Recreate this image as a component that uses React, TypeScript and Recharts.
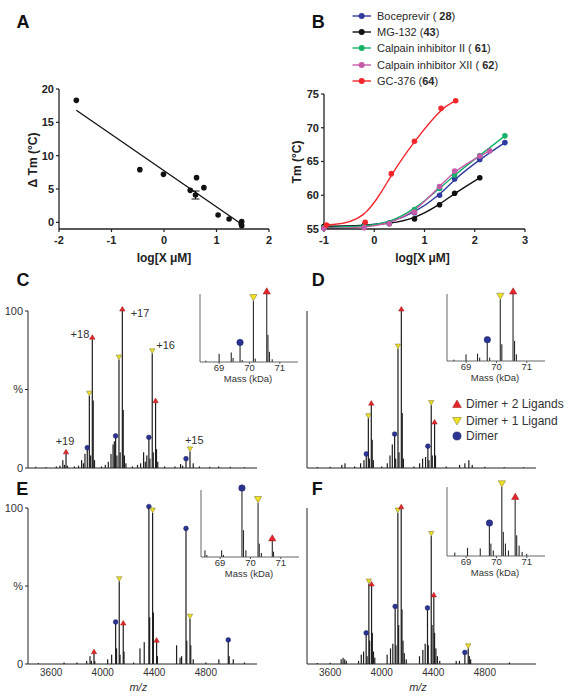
import React from 'react';
import { ComposedChart, Scatter, Line, Bar, XAxis, YAxis, ErrorBar, ReferenceDot } from 'recharts';

const FONT = '"Liberation Sans", Arial, Helvetica, sans-serif';
const INK = '#222';
const RED = '#e4262c';
const YEL = '#f2e321';
const BLU = '#2b3591';

// ---------- Panel A : ΔTm vs log[X µM]
const aX = [-1.67, -0.46, -0.01, 0.5, 0.6, 0.62, 0.76, 1.03, 1.24, 1.48, 1.48, 1.47];
const aY = [18.3, 7.9, 7.2, 4.8, 4.1, 6.7, 5.2, 1.1, 0.5, 0.1, -0.5, -0.2];
const aErr = [0, 0, 0, 0, 0.6, 0, 0, 0, 0, 0, 0, 0];
const aFitX = [-1.67, 1.48];
const aFitY = [16.8, -0.3];
const aXTicks = [-2, -1, 0, 1, 2];
const aYTicks = [0, 5, 10, 15, 20];

// ---------- Panel B : Tm vs log[X µM]
const bocX = [-1, -0.2, 0.3, 0.8, 1.3, 1.6, 2.1, 2.6];
const bocY = [55.3, 55.5, 55.9, 57.4, 60.0, 62.4, 65.3, 67.8];
const mgX = [-1, -0.2, 0.3, 0.8, 1.3, 1.6, 2.1];
const mgY = [55.4, 55.5, 55.8, 56.5, 58.6, 60.3, 62.6];
const c2X = [-1, -0.2, 0.3, 0.8, 1.3, 1.6, 2.1, 2.6];
const c2Y = [55.2, 55.4, 55.9, 57.9, 61.0, 63.0, 65.9, 68.8];
const c12X = [-1, -0.2, 0.3, 0.8, 1.3, 1.6, 2.1, 2.3];
const c12Y = [55.1, 55.2, 55.8, 57.5, 61.3, 63.6, 65.8, 66.6];
const gcX = [-0.95, -0.18, 0.34, 0.8, 1.33, 1.62];
const gcY = [55.6, 56.0, 63.2, 68.0, 72.9, 74.0];
const bXTicks = [-1, 0, 1, 2, 3];
const bYTicks = [55, 60, 65, 70, 75];

const bSeries = [
  { pre: 'Boceprevir ( ', num: '28', color: '#2f3c9e', xs: bocX, ys: bocY },
  { pre: 'MG-132 (', num: '43', color: '#111111', xs: mgX, ys: mgY },
  { pre: 'Calpain inhibitor II ( ', num: '61', color: '#17b26a', xs: c2X, ys: c2Y },
  { pre: 'Calpain inhibitor XII ( ', num: '62', color: '#c45aa8', xs: c12X, ys: c12Y },
  { pre: 'GC-376 (', num: '64', color: '#f2262b', xs: gcX, ys: gcY },
];

// ---------- Mass spectra (m/z, relative intensity %, marker)
type Mark = 'r' | 'y' | 'b';
type Peak = { mz: number; v: number; m?: Mark };
type IPeak = { k: number; v: number; m?: Mark };

const cPeaks: Peak[] = [
  { mz: 3480, v: 0.8 }, { mz: 3560, v: 0.6 }, { mz: 3640, v: 1 }, { mz: 3668, v: 1.5 },
  { mz: 3690, v: 5 }, { mz: 3703, v: 2 }, { mz: 3715, v: 9, m: 'r' }, { mz: 3726, v: 1.5 },
  { mz: 3780, v: 1 }, { mz: 3812, v: 1.5 }, { mz: 3836, v: 5 }, { mz: 3850, v: 3 },
  { mz: 3862, v: 9 }, { mz: 3880, v: 12, m: 'b' }, { mz: 3896, v: 46, m: 'y' }, { mz: 3906, v: 8 },
  { mz: 3919, v: 82, m: 'r' }, { mz: 3926, v: 43 }, { mz: 3936, v: 5 }, { mz: 3990, v: 1 },
  { mz: 4020, v: 2 }, { mz: 4043, v: 4 }, { mz: 4064, v: 9 }, { mz: 4080, v: 15 },
  { mz: 4090, v: 17 }, { mz: 4100, v: 19.5, m: 'b' }, { mz: 4110, v: 8 }, { mz: 4126, v: 69, m: 'y' },
  { mz: 4135, v: 10 }, { mz: 4152, v: 100, m: 'r' }, { mz: 4159, v: 37 }, { mz: 4168, v: 8 },
  { mz: 4180, v: 3 }, { mz: 4230, v: 1 }, { mz: 4270, v: 2 }, { mz: 4294, v: 3 },
  { mz: 4317, v: 10 }, { mz: 4330, v: 4 }, { mz: 4342, v: 8 }, { mz: 4358, v: 18.6, m: 'b' },
  { mz: 4366, v: 6 }, { mz: 4384, v: 73, m: 'y' }, { mz: 4392, v: 10 }, { mz: 4410, v: 41.6, m: 'r' },
  { mz: 4417, v: 12 }, { mz: 4427, v: 4 }, { mz: 4480, v: 1 }, { mz: 4560, v: 1 },
  { mz: 4604, v: 2.5 }, { mz: 4620, v: 1.5 }, { mz: 4646, v: 5, m: 'b' }, { mz: 4677, v: 10.5, m: 'y' },
  { mz: 4702, v: 3 }, { mz: 4750, v: 1 }, { mz: 4830, v: 0.8 }, { mz: 4900, v: 1 },
  { mz: 4990, v: 0.8 }, { mz: 5100, v: 0.5 },
];

const dPeaks: Peak[] = [
  { mz: 3500, v: 0.6 }, { mz: 3600, v: 0.8 }, { mz: 3690, v: 2 }, { mz: 3715, v: 3 },
  { mz: 3790, v: 1 }, { mz: 3836, v: 3 }, { mz: 3862, v: 5 }, { mz: 3880, v: 8, m: 'b' },
  { mz: 3896, v: 31.7, m: 'y' }, { mz: 3904, v: 6 }, { mz: 3919, v: 40, m: 'r' }, { mz: 3926, v: 18 },
  { mz: 3935, v: 5 }, { mz: 4000, v: 1 }, { mz: 4043, v: 3 }, { mz: 4064, v: 8 },
  { mz: 4082, v: 15 }, { mz: 4100, v: 20.7, m: 'b' }, { mz: 4108, v: 6 }, { mz: 4126, v: 76, m: 'y' },
  { mz: 4134, v: 10 }, { mz: 4152, v: 100, m: 'r' }, { mz: 4159, v: 35 }, { mz: 4168, v: 6 },
  { mz: 4250, v: 1 }, { mz: 4294, v: 3 }, { mz: 4317, v: 6 }, { mz: 4340, v: 7 },
  { mz: 4358, v: 13, m: 'b' }, { mz: 4366, v: 5 }, { mz: 4384, v: 40, m: 'y' }, { mz: 4392, v: 8 },
  { mz: 4410, v: 28, m: 'r' }, { mz: 4417, v: 8 }, { mz: 4500, v: 1 }, { mz: 4604, v: 2 },
  { mz: 4645, v: 3 }, { mz: 4676, v: 5 }, { mz: 4702, v: 2 }, { mz: 4800, v: 0.8 },
  { mz: 4950, v: 0.6 }, { mz: 5100, v: 0.5 },
];

const ePeaks: Peak[] = [
  { mz: 3500, v: 0.6 }, { mz: 3700, v: 1 }, { mz: 3800, v: 1 }, { mz: 3875, v: 2 },
  { mz: 3901, v: 5 }, { mz: 3912, v: 2 }, { mz: 3932, v: 6.6, m: 'r' }, { mz: 3938, v: 2 },
  { mz: 4038, v: 3 }, { mz: 4069, v: 6 }, { mz: 4100, v: 26, m: 'b' }, { mz: 4107, v: 10 },
  { mz: 4128, v: 53, m: 'y' }, { mz: 4134, v: 6 }, { mz: 4159, v: 25, m: 'r' }, { mz: 4165, v: 8 },
  { mz: 4240, v: 1 }, { mz: 4289, v: 10 }, { mz: 4322, v: 14 }, { mz: 4358, v: 100, m: 'b' },
  { mz: 4364, v: 30 }, { mz: 4387, v: 97, m: 'y' }, { mz: 4393, v: 33 }, { mz: 4418, v: 14, m: 'r' },
  { mz: 4424, v: 5 }, { mz: 4573, v: 12 }, { mz: 4600, v: 4 }, { mz: 4612, v: 5 },
  { mz: 4646, v: 86, m: 'b' }, { mz: 4652, v: 15 }, { mz: 4677, v: 29, m: 'y' }, { mz: 4683, v: 12 },
  { mz: 4702, v: 3 }, { mz: 4800, v: 1 }, { mz: 4901, v: 3 }, { mz: 4974, v: 14.5, m: 'b' },
  { mz: 4981, v: 5 }, { mz: 5013, v: 3 }, { mz: 5100, v: 1 },
];

const fPeaks: Peak[] = [
  { mz: 3500, v: 0.6 }, { mz: 3600, v: 0.8 }, { mz: 3685, v: 3 }, { mz: 3700, v: 4 },
  { mz: 3713, v: 3 }, { mz: 3725, v: 2 }, { mz: 3820, v: 2 }, { mz: 3841, v: 6 },
  { mz: 3859, v: 8 }, { mz: 3879, v: 19, m: 'b' }, { mz: 3886, v: 5 }, { mz: 3900, v: 51.5, m: 'y' },
  { mz: 3906, v: 15 }, { mz: 3921, v: 50, m: 'r' }, { mz: 3927, v: 20 }, { mz: 3936, v: 8 },
  { mz: 3946, v: 4 }, { mz: 4042, v: 6 }, { mz: 4068, v: 10 }, { mz: 4086, v: 13 },
  { mz: 4104, v: 36, m: 'b' }, { mz: 4110, v: 12 }, { mz: 4125, v: 97, m: 'y' }, { mz: 4131, v: 25 },
  { mz: 4151, v: 99.5, m: 'r' }, { mz: 4157, v: 35 }, { mz: 4165, v: 15 }, { mz: 4175, v: 7 },
  { mz: 4190, v: 3 }, { mz: 4293, v: 5 }, { mz: 4319, v: 9 }, { mz: 4337, v: 13 },
  { mz: 4355, v: 35, m: 'b' }, { mz: 4361, v: 12 }, { mz: 4384, v: 82, m: 'y' }, { mz: 4390, v: 25 },
  { mz: 4404, v: 43, m: 'r' }, { mz: 4410, v: 20 }, { mz: 4420, v: 10 }, { mz: 4432, v: 5 },
  { mz: 4450, v: 2 }, { mz: 4578, v: 2 }, { mz: 4603, v: 2 }, { mz: 4645, v: 6.5, m: 'b' },
  { mz: 4671, v: 10, m: 'y' }, { mz: 4680, v: 5 }, { mz: 4690, v: 3 }, { mz: 4991, v: 1 },
];

const cInset: IPeak[] = [
  { k: 68.56, v: 2 }, { k: 69.0, v: 12 }, { k: 69.4, v: 14 }, { k: 69.46, v: 6 },
  { k: 69.69, v: 26, m: 'b' }, { k: 69.76, v: 3 }, { k: 70.13, v: 90, m: 'y' }, { k: 70.19, v: 5 },
  { k: 70.57, v: 100, m: 'r' }, { k: 70.61, v: 40 }, { k: 70.66, v: 15 }, { k: 70.75, v: 4 },
];
const dInset: IPeak[] = [
  { k: 68.6, v: 2 }, { k: 69.0, v: 10 }, { k: 69.38, v: 11 }, { k: 69.45, v: 5 },
  { k: 69.7, v: 29, m: 'b' }, { k: 69.78, v: 5 }, { k: 70.13, v: 92, m: 'y' }, { k: 70.18, v: 25 },
  { k: 70.55, v: 100, m: 'r' }, { k: 70.6, v: 30 }, { k: 70.66, v: 10 },
];
const eInset: IPeak[] = [
  { k: 68.5, v: 10 }, { k: 68.56, v: 3 }, { k: 69.05, v: 10 }, { k: 69.11, v: 3 },
  { k: 69.72, v: 100, m: 'b' }, { k: 69.77, v: 40 }, { k: 69.85, v: 10 }, { k: 70.25, v: 81, m: 'y' },
  { k: 70.29, v: 20 }, { k: 70.36, v: 6 }, { k: 70.72, v: 24, m: 'r' }, { k: 70.76, v: 8 },
];
const fInset: IPeak[] = [
  { k: 68.63, v: 5 }, { k: 69.05, v: 12 }, { k: 69.47, v: 11 }, { k: 69.77, v: 45, m: 'b' },
  { k: 69.82, v: 18 }, { k: 69.9, v: 8 }, { k: 70.18, v: 100, m: 'y' }, { k: 70.23, v: 35 },
  { k: 70.3, v: 18 }, { k: 70.4, v: 8 }, { k: 70.62, v: 82, m: 'r' }, { k: 70.67, v: 30 },
  { k: 70.75, v: 15 }, { k: 70.85, v: 6 }, { k: 71.0, v: 3 },
];

const cdTicks = [3600, 3800, 4000, 4200, 4400, 4600, 4800, 5000];
const efTicks = [3600, 4000, 4400, 4800];
const insetTicks = [69, 70, 71];

const cLabels = [
  { mz: 3707, v: 16.9, t: '+19' },
  { mz: 3823, v: 85.2, t: '+18' },
  { mz: 4289, v: 98.4, t: '+17' },
  { mz: 4488, v: 78.2, t: '+16' },
  { mz: 4710, v: 17.5, t: '+15' },
];

const markLegend = [
  { m: 'r' as Mark, t: 'Dimer + 2 Ligands' },
  { m: 'y' as Mark, t: 'Dimer + 1 Ligand' },
  { m: 'b' as Mark, t: 'Dimer' },
];

// ---------- helpers
function Txt(props: any) {
  const { x, y, children, size = 11, bold = false, italic = false, rotate = 0, color = INK, anchor = 'middle' } = props;
  const tx = anchor === 'middle' ? '-50%' : anchor === 'start' ? '0%' : '-100%';
  return (
    <div
      style={{
        position: 'absolute', left: x, top: y,
        transform: `translate(${tx}, -50%) rotate(${rotate}deg)`,
        fontSize: size, lineHeight: `${size}px`, fontWeight: bold ? 700 : 400,
        fontStyle: italic ? 'italic' : 'normal', color, whiteSpace: 'nowrap', fontFamily: FONT,
      }}
    >
      {children}
    </div>
  );
}

function markerSvg(m: Mark, cx: number, cy: number, s: number) {
  const w = 2.7 * s, h = 4.6 * s, r = 2.4 * s;
  if (m === 'r') {
    return <polygon points={`${cx - w},${cy} ${cx + w},${cy} ${cx},${cy - h}`} fill={RED} stroke="#9a1515" strokeWidth={0.5} />;
  }
  if (m === 'y') {
    return <polygon points={`${cx - w},${cy - h} ${cx + w},${cy - h} ${cx},${cy}`} fill={YEL} stroke="#6d6a2a" strokeWidth={0.5} />;
  }
  return <circle cx={cx} cy={cy - r * 0.6} r={r} fill={BLU} stroke="#1a2060" strokeWidth={0.5} />;
}

const markerShape = (s: number) => (p: any) => {
  const { cx, cy, payload } = p;
  if (cx == null || cy == null || !payload || !payload.m) return <g />;
  return markerSvg(payload.m, cx, cy, s);
};

const stickShape = (color: string, w: number) => (p: any) => {
  const { x, y, width, height } = p;
  if (height == null || !isFinite(height) || height <= 0 || x == null) return <g />;
  return <rect x={x + (width || 0) / 2 - w / 2} y={y} width={w} height={height} fill={color} />;
};

const boldTick = { fontSize: 11, fontWeight: 700, fill: INK, fontFamily: FONT };

// ---------- Panel A
function PanelA() {
  const yw = 40, xh = 30, mt = 10, mr = 12;
  const x0 = 59, x1 = 269, y0 = 89, y1 = 229;
  const data = aX.map((x, i) => ({ x, y: aY[i], err: aErr[i] }));
  const fit = aFitX.map((x, i) => ({ x, y: aFitY[i] }));
  return (
    <div style={{ position: 'absolute', left: x0 - yw, top: y0 - mt }}>
      <ComposedChart width={yw + (x1 - x0) + mr} height={mt + (y1 - y0) + xh} margin={{ top: mt, right: mr, bottom: 0, left: 0 }}>
        <XAxis type="number" dataKey="x" domain={[-2, 2]} ticks={aXTicks} height={xh}
          axisLine={{ stroke: INK, strokeWidth: 1.3 }} tickLine={{ stroke: INK, strokeWidth: 1.2 }} tickSize={3} tickMargin={4} tick={boldTick} />
        <YAxis type="number" domain={[-1, 20]} ticks={aYTicks} width={yw}
          axisLine={{ stroke: INK, strokeWidth: 1.3 }} tickLine={{ stroke: INK, strokeWidth: 1.2 }} tickSize={3} tickMargin={2} tick={boldTick} />
        <Line data={fit} dataKey="y" type="linear" stroke="#111" strokeWidth={1.3} dot={false} isAnimationActive={false} />
        <Scatter data={data} dataKey="y" isAnimationActive={false}
          shape={(p: any) => <circle cx={p.cx} cy={p.cy} r={2.8} fill="#111" />}>
          <ErrorBar dataKey="err" direction="y" width={4} stroke="#111" strokeWidth={1} />
        </Scatter>
      </ComposedChart>
    </div>
  );
}

// ---------- Panel B
function PanelB() {
  const yw = 40, xh = 30, mt = 10, mr = 12;
  const x0 = 324, x1 = 525, y0 = 94, y1 = 229;
  return (
    <div style={{ position: 'absolute', left: x0 - yw, top: y0 - mt }}>
      <ComposedChart width={yw + (x1 - x0) + mr} height={mt + (y1 - y0) + xh} margin={{ top: mt, right: mr, bottom: 0, left: 0 }}>
        <XAxis type="number" dataKey="x" domain={[-1, 3]} ticks={bXTicks} height={xh}
          axisLine={{ stroke: INK, strokeWidth: 1.3 }} tickLine={{ stroke: INK, strokeWidth: 1.2 }} tickSize={3} tickMargin={4} tick={boldTick} />
        <YAxis type="number" domain={[55, 75]} ticks={bYTicks} width={yw}
          axisLine={{ stroke: INK, strokeWidth: 1.3 }} tickLine={{ stroke: INK, strokeWidth: 1.2 }} tickSize={3} tickMargin={2} tick={boldTick} />
        {bSeries.map((s) => (
          <Line key={s.num} data={s.xs.map((x, i) => ({ x, y: s.ys[i] }))} dataKey="y" type="basis"
            stroke={s.color} strokeWidth={1.4} dot={{ r: 2.8, fill: s.color, stroke: s.color, strokeWidth: 0 }}
            isAnimationActive={false} />
        ))}
      </ComposedChart>
    </div>
  );
}

function LegendB() {
  const top = 15.8, step = 16.3;
  return (
    <>
      {bSeries.map((s, i) => (
        <div key={s.num} style={{ position: 'absolute', left: 352, top: top + i * step - 7, height: 14, display: 'flex', alignItems: 'center', fontFamily: FONT }}>
          <svg width={20} height={14} style={{ display: 'block' }}>
            <line x1={0.5} y1={7} x2={19} y2={7} stroke={s.color} strokeWidth={1.4} />
            <circle cx={9.7} cy={7} r={3} fill={s.color} />
          </svg>
          <span style={{ marginLeft: 5, fontSize: 11, color: '#2a2a2a', whiteSpace: 'nowrap' }}>
            {s.pre}<b>{s.num}</b>)
          </span>
        </div>
      ))}
    </>
  );
}

// ---------- Spectra
function Spectrum(props: any) {
  const { x0, y0, h, peaks, ticks, xLabels, yLabels, labels } = props;
  const yw = 30, xh = 22, mt = 12, mr = 4, w = 229;
  const marks = peaks.filter((p: Peak) => p.m);
  return (
    <div style={{ position: 'absolute', left: x0 - yw, top: y0 - mt }}>
      <ComposedChart width={yw + w + mr} height={mt + h + xh} data={peaks} margin={{ top: mt, right: mr, bottom: 0, left: 0 }}>
        <XAxis type="number" dataKey="mz" domain={[3420, 5197]} ticks={ticks} height={xh}
          axisLine={{ stroke: INK, strokeWidth: 1 }} tickLine={xLabels ? false : { stroke: INK }} tickSize={3} tickMargin={2}
          tick={xLabels ? { fontSize: 10, fill: '#333', fontFamily: FONT } : false} />
        <YAxis type="number" dataKey="v" domain={[0, 100]} ticks={[0, 50, 100]} width={yw}
          axisLine={{ stroke: INK, strokeWidth: 1 }} tickLine={{ stroke: INK }} tickSize={3} tickMargin={2}
          tickFormatter={(v: number) => (v === 50 ? '%' : String(v))}
          tick={yLabels ? { fontSize: 11, fill: '#333', fontFamily: FONT } : false} />
        <Bar dataKey="v" shape={stickShape('#1e1e1e', 1.2)} isAnimationActive={false} />
        <Scatter data={marks} dataKey="v" shape={markerShape(1)} isAnimationActive={false} />
        {(labels || []).map((l: any) => (
          <ReferenceDot key={l.t} x={l.mz} y={l.v} r={0} fill="none" stroke="none"
            label={{ value: l.t, position: 'center', fontSize: 11, fill: '#333' }} />
        ))}
      </ComposedChart>
    </div>
  );
}

function Inset(props: any) {
  const { x0, y0, y1, peaks } = props;
  const yw = 3, xh = 14, mt = 10, mr = 4, w = 98;
  const marks = peaks.filter((p: IPeak) => p.m);
  return (
    <>
      <div style={{ position: 'absolute', left: x0 - yw, top: y0 - mt }}>
        <ComposedChart width={yw + w + mr} height={mt + (y1 - y0) + xh} data={peaks} margin={{ top: mt, right: mr, bottom: 0, left: 0 }}>
          <XAxis type="number" dataKey="k" domain={[68.37, 71.6]} ticks={insetTicks} height={xh}
            axisLine={{ stroke: '#555', strokeWidth: 0.9 }} tickLine={{ stroke: '#555' }} tickSize={2} tickMargin={0}
            tick={{ fontSize: 9.5, fill: '#333', fontFamily: FONT }} />
          <YAxis type="number" dataKey="v" domain={[0, 100]} ticks={[0, 50, 100]} width={yw}
            axisLine={{ stroke: '#555', strokeWidth: 0.9 }} tickLine={{ stroke: '#555' }} tickSize={2} tick={false} />
          <Bar dataKey="v" shape={stickShape('#2a2a2a', 1.1)} isAnimationActive={false} />
          <Scatter data={marks} dataKey="v" shape={markerShape(1.35)} isAnimationActive={false} />
        </ComposedChart>
      </div>
      <Txt x={x0 + 48} y={y1 + 16.5} size={9.5} color="#333">Mass (kDa)</Txt>
    </>
  );
}

function MarkLegend() {
  const ys = [404.3, 420.7, 436.3];
  return (
    <>
      {markLegend.map((it, i) => (
        <div key={it.t} style={{ position: 'absolute', left: 451, top: ys[i] - 7, height: 14, display: 'flex', alignItems: 'center', fontFamily: FONT }}>
          <svg width={12} height={14} style={{ display: 'block' }}>
            {it.m === 'b'
              ? <circle cx={6} cy={7} r={4.1} fill={BLU} stroke="#1a2060" strokeWidth={0.5} />
              : it.m === 'r'
                ? <polygon points="1.6,10.5 10.4,10.5 6,3" fill={RED} stroke="#9a1515" strokeWidth={0.5} />
                : <polygon points="1.6,3.5 10.4,3.5 6,11" fill={YEL} stroke="#6d6a2a" strokeWidth={0.5} />}
          </svg>
          <span style={{ marginLeft: 3, fontSize: 12, color: '#333', whiteSpace: 'nowrap' }}>{it.t}</span>
        </div>
      ))}
    </>
  );
}

export default function App() {
  return (
    <div style={{ position: 'absolute', left: 0, top: 0, width: 568, height: 700, background: '#fff', overflow: 'hidden', fontFamily: FONT }}>
      {/* panel letters */}
      <Txt x={23} y={21.7} size={18} bold color="#111">A</Txt>
      <Txt x={318.3} y={21.7} size={18} bold color="#111">B</Txt>
      <Txt x={23} y={279.7} size={18} bold color="#111">C</Txt>
      <Txt x={318.3} y={280} size={18} bold color="#111">D</Txt>
      <Txt x={22.2} y={489.2} size={18} bold color="#111">E</Txt>
      <Txt x={317.2} y={489.2} size={18} bold color="#111">F</Txt>

      <PanelA />
      <Txt x={33.3} y={160} size={12} bold rotate={-90}>Δ Tm (°C)</Txt>
      <Txt x={164} y={258.3} size={12} bold>log[X μM]</Txt>

      <PanelB />
      <LegendB />
      <Txt x={296.7} y={161.7} size={12} bold rotate={-90}>Tm (°C)</Txt>
      <Txt x={422.5} y={257.5} size={12} bold>log[X μM]</Txt>

      <Spectrum x0={28} y0={311} h={157} peaks={cPeaks} ticks={cdTicks} xLabels={false} yLabels labels={cLabels} />
      <Spectrum x0={307} y0={311} h={157} peaks={dPeaks} ticks={cdTicks} xLabels={false} yLabels={false} />
      <Spectrum x0={28} y0={508} h={156} peaks={ePeaks} ticks={efTicks} xLabels yLabels />
      <Spectrum x0={307} y0={508} h={156} peaks={fPeaks} ticks={efTicks} xLabels yLabels={false} />

      <Inset x0={200} y0={294} y1={362} peaks={cInset} />
      <Inset x0={447} y0={294} y1={361} peaks={dInset} />
      <Inset x0={201} y0={490} y1={557} peaks={eInset} />
      <Inset x0={447} y0={487} y1={556} peaks={fInset} />

      <MarkLegend />

      <Txt x={138.3} y={687.3} size={11} italic color="#333">m/z</Txt>
      <Txt x={418} y={687.3} size={11} italic color="#333">m/z</Txt>
    </div>
  );
}
